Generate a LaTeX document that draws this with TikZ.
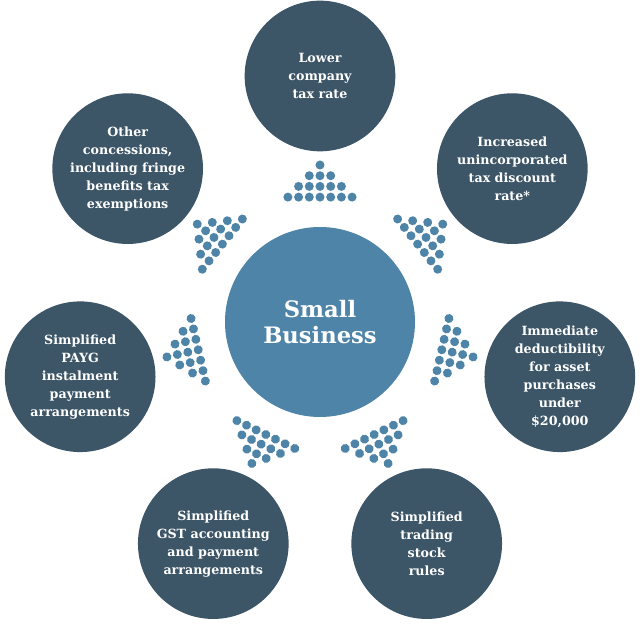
\documentclass[tikz,border=0pt]{standalone}
\usepackage{fontspec}
\setmainfont{DejaVu Serif}
\usetikzlibrary{positioning}

\definecolor{hubblue}{HTML}{4E84A8}
\definecolor{slate}{HTML}{3C5567}

\tikzset{
  hub/.style={circle,fill=hubblue,text=white,minimum size=142.5pt,inner sep=0pt,
    align=center,font=\bfseries\fontsize{17}{20}\selectfont},
  spoke/.style={circle,fill=slate,text=white,minimum size=113pt,inner sep=0pt,
    align=center,font=\bfseries\fontsize{9.5}{13.5}\selectfont},
}

\begin{document}
\begin{tikzpicture}[x=0.75pt,y=0.75pt]
  \useasboundingbox (-320,-302) rectangle (320,322);

  \node[hub] (hub) at (0,0) {Small\\Business};

  \node[spoke] (taxrate) at (90:246) {Lower\\company\\tax rate};
  \node[spoke] (discount) at (38.57:246) {Increased\\unincorporated\\tax discount\\rate*};
  \node[spoke] (assets) at (-12.86:246) {Immediate\\deductibility\\for asset\\purchases\\under\\\$20,000};
  \node[spoke] (stock) at (-64.29:246) {Simplified\\trading\\stock\\rules};
  \node[spoke] (gst) at (-115.71:246) {Simplified\\GST accounting\\and payment\\arrangements};
  \node[spoke] (payg) at (-167.14:246) {Simplified\\PAYG\\instalment\\payment\\arrangements};
  \node[spoke] (other) at (141.43:246) {Other\\concessions,\\including fringe\\benefits tax\\exemptions};

  % dot triangles, each one pointing at its spoke
  \foreach \k in {0,...,6}{
    \pgfmathsetmacro\ang{90+51.4286*\k}
    \begin{scope}[rotate=\ang-90]
      \foreach \i in {0,...,3}{
        \foreach \j in {-\i,...,\i}{
          \fill[hubblue] (10.7*\j,157-10.7*\i) circle (4.5);
        }
      }
    \end{scope}
  }
\end{tikzpicture}
\end{document}
